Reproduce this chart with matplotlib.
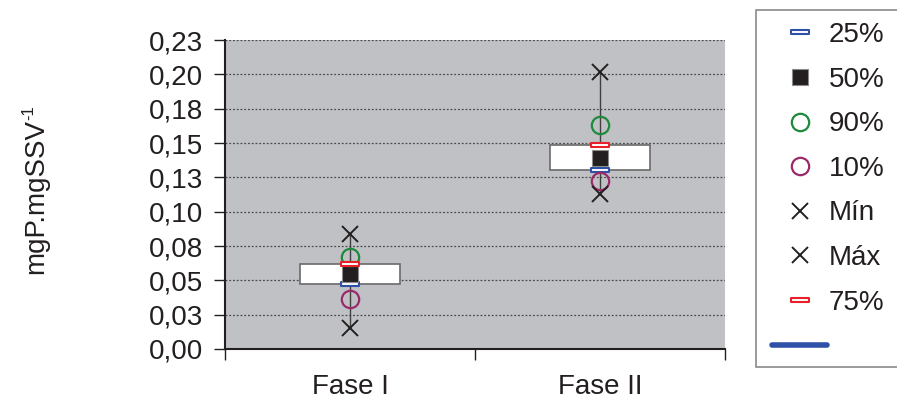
import matplotlib
matplotlib.use("Agg")
import matplotlib.pyplot as plt
from matplotlib.path import Path
from matplotlib.lines import Line2D
from matplotlib.patches import Rectangle

plt.rcParams['font.family'] = ['Liberation Sans', 'DejaVu Sans']

# Data: phosphorus per volatile suspended solids, per phase
phases = ["Fase I", "Fase II"]
p_min = [0.0155, 0.1129]
p10 = [0.0362, 0.1223]
p25 = [0.0471, 0.1300]
p50 = [0.0544, 0.1393]
p75 = [0.0619, 0.1488]
p90 = [0.0672, 0.1633]
p_max = [0.0837, 0.2019]

y_ticks = [0.0, 0.025, 0.05, 0.075, 0.1, 0.125, 0.15, 0.175, 0.2, 0.225]
y_tick_labels = ["0,00", "0,03", "0,05", "0,08", "0,10", "0,13", "0,15", "0,18", "0,20", "0,23"]
y_label = "mgP.mgSSV"
y_label_exp = "-1"

FS = 20
W, H = 897, 400
fig = plt.figure(figsize=(W / 100, H / 100), dpi=100)
ax = fig.add_axes([225 / W, 51 / H, 500 / W, 309 / H])
ax.set_facecolor("#c0c1c5")

x = [i + 0.5 for i in range(len(phases))]
box_w = 0.4

# whiskers
for xi, lo, hi in zip(x, p_min, p_max):
    ax.plot([xi, xi], [lo, hi], color="#404040", lw=1.0, zorder=2)

# interquartile boxes
for xi, q1, q3 in zip(x, p25, p75):
    ax.add_patch(Rectangle((xi - box_w / 2, q1), box_w, q3 - q1,
                           facecolor="white", edgecolor="#6a6a6a", lw=1.2, zorder=3))

# flat rectangle marker for the quartiles
bar_marker = Path([(-1, -0.22), (1, -0.22), (1, 0.22), (-1, 0.22), (-1, -0.22)],
                  [Path.MOVETO, Path.LINETO, Path.LINETO, Path.LINETO, Path.CLOSEPOLY])

h25, = ax.plot(x, p25, ls="none", marker=bar_marker, ms=13, mfc="white",
               mec="#2f50a8", mew=1.5, zorder=5)
h50, = ax.plot(x, p50, ls="none", marker="s", ms=12, mfc="#231f20",
               mec="#8a8a8a", mew=0.8, zorder=5)
h90, = ax.plot(x, p90, ls="none", marker="o", ms=12.5, mfc="none",
               mec="#1d8a3c", mew=1.6, zorder=5)
h10, = ax.plot(x, p10, ls="none", marker="o", ms=12.5, mfc="none",
               mec="#9b2a6b", mew=1.6, zorder=5)
hmin, = ax.plot(x, p_min, ls="none", marker="x", ms=11, mec="#231f20",
                mew=1.4, zorder=5)
hmax, = ax.plot(x, p_max, ls="none", marker="x", ms=11, mec="#231f20",
                mew=1.4, zorder=5)
h75, = ax.plot(x, p75, ls="none", marker=bar_marker, ms=13, mfc="white",
               mec="#e8202a", mew=1.5, zorder=5)
hline = Line2D([], [], color="#2f50a8", lw=4, solid_capstyle="round")

ax.set_xlim(0, len(phases))
ax.set_ylim(0, 0.225)
ax.set_yticks(y_ticks)
ax.set_yticklabels(y_tick_labels, fontsize=FS, color="#231f20")
ax.set_xticks(x)
ax.set_xticklabels(phases, fontsize=FS, color="#231f20")
ax.set_xticks(range(len(phases) + 1), minor=True)
ax.tick_params(axis="x", which="major", length=0, pad=18)
ax.tick_params(axis="x", which="minor", length=8, width=1, color="#231f20", direction="out")
ax.tick_params(axis="y", length=8, width=1, color="#231f20", direction="out", pad=8)

ax.grid(axis="y", color="#4a4a4a", ls=(0, (1.5, 1.5)), lw=0.9)
ax.set_axisbelow(True)
for s in ("top", "right"):
    ax.spines[s].set_visible(False)
for s in ("left", "bottom"):
    ax.spines[s].set_color("#231f20")
    ax.spines[s].set_linewidth(1.5)

# rotated axis title with a raised exponent
ylab = fig.text(36 / W, 1 - 197 / H, y_label, rotation=90, fontsize=FS,
                ha="center", va="center", color="#231f20")
fig.canvas.draw()
ax.annotate(y_label_exp, xy=(0, 1), xycoords=ylab, xytext=(-1, 0),
            textcoords="offset points", rotation=90, fontsize=12,
            ha="left", va="bottom", color="#231f20", annotation_clip=False)

# legend box (runs off the right edge of the figure)
fig.patches.append(Rectangle((756 / W, 1 - 367 / H), 1.0, (367 - 10) / H,
                             transform=fig.transFigure, facecolor="white",
                             edgecolor="#8a8a8a", lw=1.2, zorder=0))
fig.legend([h25, h50, h90, h10, hmin, hmax, h75, hline],
           ["25%", "50%", "90%", "10%", "Mín", "Máx", "75%", ""],
           loc="upper left", bbox_to_anchor=(772 / W, 1 - 22 / H),
           frameon=False, fontsize=FS, handlelength=1.98, handletextpad=0.06,
           labelspacing=0.67, borderpad=0, borderaxespad=0, labelcolor="#231f20")

fig.savefig("out.png", dpi=100)
